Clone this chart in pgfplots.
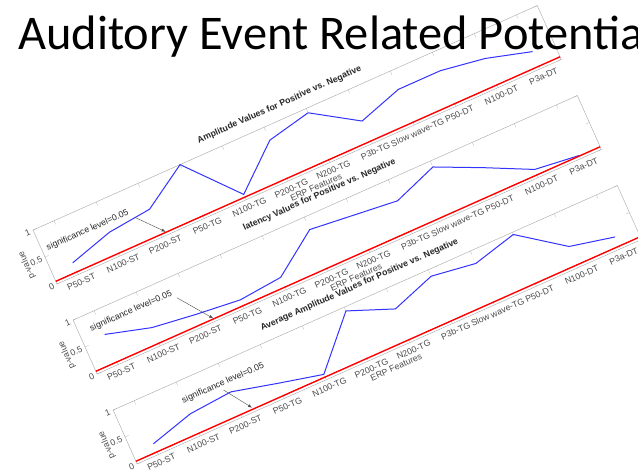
\documentclass[border=0pt]{standalone}
\usepackage{pgfplots}
\pgfplotsset{compat=1.18}
\usepackage{fontspec}
\setmainfont{Liberation Sans}
\newfontfamily\slidefont{Carlito}
\usetikzlibrary{arrows.meta}

\definecolor{mblue}{rgb}{0.2,0.2,1}
\pgfplotsset{
  erp/.style={
    scale only axis, width=552pt, height=59pt,
    xmin=0.5, xmax=12.5, ymin=0, ymax=1,
    xtick={1,...,12},
    xticklabels={P50-ST,N100-ST,P200-ST,P50-TG,N100-TG,P200-TG,N200-TG,P3b-TG,Slow wave-TG,P50-DT,N100-DT,P3a-DT},
    ytick={0,0.5,1},
    yticklabels={0,0.5,1},
    axis line style={black!35},
    tick style={black!35},
    major tick length=4pt,
    tick label style={font=\fontsize{8.8}{10}\selectfont, text=black!70},
    xticklabel style={yshift=-1.5pt},
    xlabel={ERP Features},
    ylabel={p-value},
    xlabel style={at={(axis description cs:0.5,-0.29)}, anchor=center, font=\fontsize{8.8}{10}\selectfont, text=black!70},
    ylabel style={at={(axis description cs:-0.036,0.5)}, anchor=center, font=\fontsize{8.8}{10}\selectfont, text=black!70},
    title style={at={(axis description cs:0.5,1.1)}, anchor=base, font=\fontsize{8.8}{10}\selectfont\bfseries, text=black!85},
    anchor=south west,
    clip=false,
  },
  pline/.style={mblue, line width=1pt},
  sline/.style={red, line width=1.4pt},
}

\begin{document}
\begin{tikzpicture}
\useasboundingbox (0,0) rectangle (638pt,475pt);
\clip (0,0) rectangle (638pt,475pt);
\fill[white] (0,0) rectangle (638pt,475pt);

\begin{scope}[shift={(57pt,191pt)}, rotate=24, transform shape]
% Plot 1
\begin{axis}[erp, at={(0pt,0pt)}, title={Amplitude Values for Positive vs. Negative}]
\addplot[pline] coordinates {(1,0.22) (2,0.44) (3,0.52) (4,1.0) (5,0.10) (6,0.76) (7,0.92) (8,0.42) (9,0.66) (10,0.66) (11,0.54) (12,0.32)};
\addplot[sline] coordinates {(0.5,0.05) (12.5,0.05)};
\node[anchor=base west, font=\fontsize{8.8}{10}\selectfont, text=black!85] at (axis cs:0.54,0.58) {significance level=0.05};
\draw[-{Latex[length=4pt,width=3pt]}, black!70] (axis cs:2.63,0.50) -- (axis cs:3.12,0.06);
\end{axis}
% Plot 2
\begin{axis}[erp, at={(0pt,-98.5pt)}, title={latency Values for Positive vs. Negative}]
\addplot[pline] coordinates {(1,0.56) (2,0.34) (3,0.24) (4,0.16) (5,0.23) (6,0.77) (7,0.69) (8,0.61) (9,0.89) (10,0.53) (11,0.15) (12,0.06)};
\addplot[sline] coordinates {(0.5,0.05) (12.5,0.05)};
\node[anchor=base west, font=\fontsize{8.8}{10}\selectfont, text=black!85] at (axis cs:0.69,0.70) {significance level=0.05};
\draw[-{Latex[length=4pt,width=3pt]}, black!70] (axis cs:2.76,0.63) -- (axis cs:3.3,0.06);
\end{axis}
% Plot 3
\begin{axis}[erp, at={(0pt,-197pt)}, title={Average Amplitude Values for Positive vs. Negative}]
\addplot[pline] coordinates {(1,0.20) (2,0.41) (3,0.47) (4,0.28) (5,0.10) (6,0.93) (7,0.62) (8,0.88) (9,0.77) (10,0.96) (11,0.39) (12,0.22)};
\addplot[sline] coordinates {(0.5,0.05) (12.5,0.05)};
\node[anchor=base west, font=\fontsize{8.8}{10}\selectfont, text=black!85] at (axis cs:1.88,0.62) {significance level=0.05};
\draw[-{Latex[length=4pt,width=3pt]}, black!70] (axis cs:2.87,0.55) -- (axis cs:3.28,0.08);
\end{axis}
\end{scope}

\node[anchor=base west, inner sep=0pt, font=\slidefont\fontsize{48.4}{50}\selectfont] at (18pt,425pt) {Auditory Event Related Potential};
\end{tikzpicture}
\end{document}
